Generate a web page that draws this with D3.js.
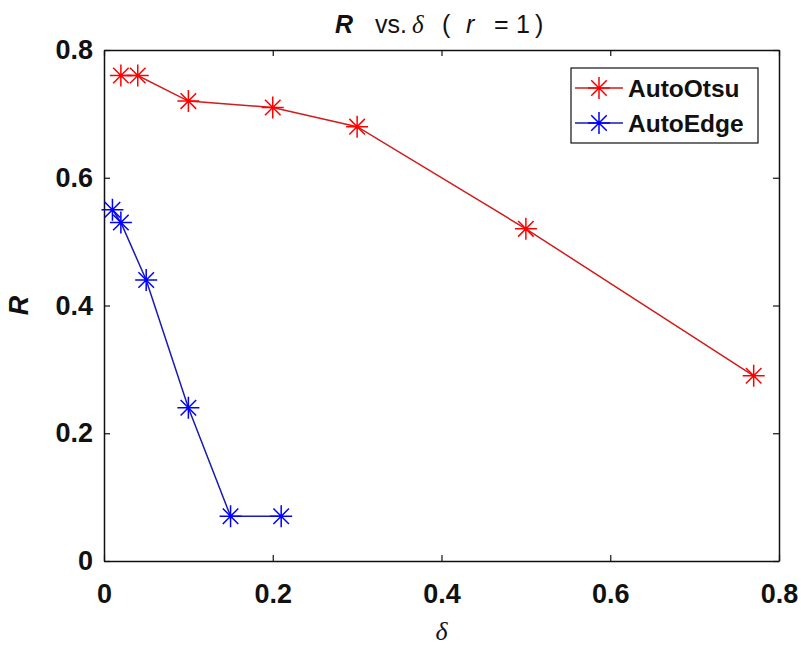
<!DOCTYPE html>
<html>
<head>
<meta charset="utf-8">
<script src="https://cdn.jsdelivr.net/npm/d3@7"></script>
<style>
  body { margin: 0; background: #fff; }
  text { font-family: "Liberation Sans", Arial, sans-serif; }
</style>
</head>
<body>
<div id="chart"></div>
<script>
// data
var otsuDelta = [0.02, 0.04, 0.1, 0.2, 0.3, 0.5, 0.77]
var otsuR = [0.76, 0.76, 0.72, 0.71, 0.68, 0.52, 0.29]
var edgeDelta = [0.01, 0.02, 0.05, 0.1, 0.15, 0.21]
var edgeR = [0.55, 0.53, 0.44, 0.24, 0.07, 0.07]
var seriesNames = ["AutoOtsu", "AutoEdge"]
var xTicks = [0, 0.2, 0.4, 0.6, 0.8]
var yTicks = [0, 0.2, 0.4, 0.6, 0.8]

var margin = {top: 50, right: 22, bottom: 87, left: 104},
    width = 801 - margin.left - margin.right,
    height = 648 - margin.top - margin.bottom;

var svg = d3.select("#chart")
  .append("svg")
  .attr("width", 801)
  .attr("height", 648)
  .append("g")
  .attr("transform", "translate(" + margin.left + "," + margin.top + ")");

var x = d3.scaleLinear().domain([0, 0.8]).range([0, width])
var y = d3.scaleLinear().domain([0, 0.8]).range([height, 0])

var fmt = function(d) { return d === 0 ? "0" : d3.format(".1f")(d) }

// axes with inward ticks on all four sides
var bottom = svg.append("g")
  .attr("transform", "translate(0," + height + ")")
  .call(d3.axisBottom(x).tickValues(xTicks).tickFormat(fmt).tickSizeInner(-6).tickSizeOuter(0).tickPadding(23))
var left = svg.append("g")
  .call(d3.axisLeft(y).tickValues(yTicks).tickFormat(fmt).tickSizeInner(-6).tickSizeOuter(0).tickPadding(11))
var top = svg.append("g")
  .call(d3.axisTop(x).tickValues(xTicks).tickFormat("").tickSizeInner(-6).tickSizeOuter(0))
var right = svg.append("g")
  .attr("transform", "translate(" + width + ",0)")
  .call(d3.axisRight(y).tickValues(yTicks).tickFormat("").tickSizeInner(-6).tickSizeOuter(0))

svg.selectAll(".domain").attr("stroke", "#111").attr("stroke-width", 1.5)
svg.selectAll(".tick line").attr("stroke", "#111").attr("stroke-width", 1.2)
svg.selectAll(".tick text")
  .attr("font-size", 27)
  .attr("font-weight", "bold")
  .attr("fill", "#111")
  .style("font-family", "'Liberation Sans', Arial, sans-serif")
bottom.selectAll(".tick text").attr("dy", "0.71em")

// asterisk marker path
function star(r) {
  var p = ""
  for (var a = 0; a < 4; a++) {
    var t = a * Math.PI / 4
    var dx = r * Math.cos(t), dy = r * Math.sin(t)
    p += "M" + (-dx) + "," + (-dy) + "L" + dx + "," + dy
  }
  return p
}

var series = [
  {name: seriesNames[0], xs: otsuDelta, ys: otsuR, line: "#d01c1c", mark: "#ff0000"},
  {name: seriesNames[1], xs: edgeDelta, ys: edgeR, line: "#1a1ab4", mark: "#0000ff"}
]

var line = d3.line()
  .x(function(d) { return x(d[0]) })
  .y(function(d) { return y(d[1]) })

series.forEach(function(s) {
  var pts = s.xs.map(function(v, i) { return [v, s.ys[i]] })
  svg.append("path")
    .datum(pts)
    .attr("fill", "none")
    .attr("stroke", s.line)
    .attr("stroke-width", 1.5)
    .attr("d", line)
  svg.selectAll()
    .data(pts)
    .enter()
    .append("path")
      .attr("transform", function(d) { return "translate(" + x(d[0]) + "," + y(d[1]) + ")" })
      .attr("d", star(11))
      .attr("stroke", s.mark)
      .attr("stroke-width", 1.5)
      .attr("fill", "none")
})

// legend
var lg = svg.append("g").attr("transform", "translate(" + (571 - margin.left) + "," + (68 - margin.top) + ")")
lg.append("rect")
  .attr("width", 187).attr("height", 75)
  .attr("fill", "#fff").attr("stroke", "#111").attr("stroke-width", 1.2)
series.forEach(function(s, i) {
  var cy = 20 + i * 35
  lg.append("line")
    .attr("x1", 4).attr("x2", 52).attr("y1", cy).attr("y2", cy)
    .attr("stroke", s.line).attr("stroke-width", 1.5)
  lg.append("path")
    .attr("transform", "translate(28," + cy + ")")
    .attr("d", star(11))
    .attr("stroke", s.mark).attr("stroke-width", 1.5).attr("fill", "none")
  lg.append("text")
    .attr("x", 57).attr("y", cy).attr("dy", "0.36em")
    .attr("font-size", 24.5).attr("font-weight", "bold").attr("fill", "#111")
    .text(s.name)
})

// title, pieces spaced like the original
var serif = "'Liberation Serif', 'Times New Roman', serif"
var title = svg.append("text")
  .attr("y", -17)
  .attr("font-size", 25)
  .attr("fill", "#111")
title.append("tspan").attr("x", 231).attr("font-weight", "bold").attr("font-style", "italic").text("R")
title.append("tspan").attr("x", 271).text("vs.")
title.append("tspan").attr("x", 308).style("font-family", serif).attr("font-style", "italic").text("\u03b4")
title.append("tspan").attr("x", 338).text("(")
title.append("tspan").attr("x", 362).attr("font-style", "italic").text("r")
title.append("tspan").attr("x", 390).text("=")
title.append("tspan").attr("x", 412).text("1")
title.append("tspan").attr("x", 431).text(")")

// axis labels
svg.append("text")
  .attr("x", width / 2).attr("y", height + 79)
  .attr("text-anchor", "middle")
  .attr("font-size", 26).attr("font-style", "italic").attr("fill", "#111")
  .style("font-family", serif)
  .text("\u03b4")

svg.append("text")
  .attr("transform", "translate(" + (-76) + "," + (height / 2) + ") rotate(-90)")
  .attr("text-anchor", "middle")
  .attr("font-size", 27).attr("font-weight", "bold").attr("font-style", "italic").attr("fill", "#111")
  .text("R")
</script>
</body>
</html>
